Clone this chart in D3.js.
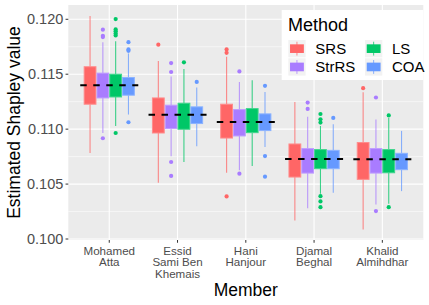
<!DOCTYPE html>
<html><head><meta charset="utf-8">
<script src="https://cdn.jsdelivr.net/npm/d3@7"></script>
<style>body{margin:0;background:#fff}svg{display:block;font-family:"Liberation Sans",Arial,sans-serif}</style>
</head><body><svg id="c" width="429" height="305"></svg>
<script>
const members = ["Mohamed\nAtta", "Essid\nSami Ben\nKhemais", "Hani\nHanjour", "Djamal\nBeghal", "Khalid\nAlmihdhar"];
const methods = ["SRS", "StrRS", "LS", "COA"];
const colors = ["#FF6666", "#A97CFF", "#00C767", "#6699FF"];
const yTicks = [0.100, 0.105, 0.110, 0.115, 0.120];
const yMinor = [0.1025, 0.1075, 0.1125, 0.1175];
// [lowWhisker, q1, median, q3, highWhisker] per member, per method
const statsSRS   = [[0.10783,0.11227,0.1140,0.11568,0.1203],[0.10513,0.10965,0.1112,0.11284,0.1162],[0.10603,0.10919,0.1107,0.11227,0.11659],[0.10169,0.10564,0.1073,0.10865,0.11248],[0.10087,0.10543,0.1072,0.10878,0.11336]];
const statsStrRS = [[0.10965,0.11284,0.1140,0.11510,0.11790],[0.10754,0.11005,0.1112,0.11218,0.1148],[0.10625,0.10938,0.1107,0.11178,0.1143],[0.10281,0.10600,0.1073,0.10823,0.11112],[0.10315,0.10600,0.1072,0.10823,0.11088]];
const statsLS    = [[0.11029,0.11293,0.1139,0.11500,0.11801],[0.10701,0.10999,0.1113,0.11236,0.11547],[0.10664,0.10968,0.1107,0.11187,0.11446],[0.10412,0.10640,0.1073,0.10814,0.11029],[0.10321,0.10603,0.1072,0.10814,0.11102]];
const statsCOA   = [[0.11133,0.11309,0.1139,0.11470,0.11689],[0.10844,0.11051,0.1113,0.11203,0.11378],[0.10837,0.10987,0.1107,0.11139,0.11339],[0.10421,0.10640,0.1073,0.10807,0.11044],[0.10436,0.10631,0.1072,0.10780,0.10984]];
const outSRS   = [[],[0.11769],[0.11726,0.11695,0.10388],[],[0.11373]];
const outStrRS = [[0.11905,0.11850,0.11838,0.10917],[0.11601,0.1152,0.10701,0.10574],[0.11525,0.10595],[0.11242,0.11184],[0.11288,0.10254]];
const outLS    = [[0.12002,0.11908,0.11892,0.11871,0.11853,0.10965],[0.11608],[],[0.11138,0.1109,0.1106,0.1039,0.10342,0.1029],[0.11125,0.1029]];
const outCOA   = [[0.11792,0.11726,0.11713,0.11063],[0.1143],[0.11394,0.10755,0.10567],[0.11102],[]];
const means = [0.1140, 0.1113, 0.11066, 0.10728, 0.10725];

const stats = [statsSRS, statsStrRS, statsLS, statsCOA];
const outs = [outSRS, outStrRS, outLS, outCOA];

const svg = d3.select("#c");
const P = {l: 68.3, r: 423.3, t: 5, b: 240};
const x = d3.scaleBand().domain(members).range([P.l, P.r]).paddingInner(0).paddingOuter(0.1);
const bw = x.bandwidth();
const xs = d3.scaleBand().domain(methods).range([-0.375*bw, 0.375*bw]);
const y = d3.scaleLinear().domain([0.09991, 0.1213]).range([P.b, P.t]);

svg.append("rect").attr("x",P.l).attr("y",P.t).attr("width",P.r-P.l).attr("height",P.b-P.t).attr("fill","#EBEBEB");
const g = svg.append("g");
yMinor.forEach(v=>g.append("line").attr("x1",P.l).attr("x2",P.r).attr("y1",y(v)).attr("y2",y(v)).attr("stroke","#fff").attr("stroke-width",0.55));
yTicks.forEach(v=>g.append("line").attr("x1",P.l).attr("x2",P.r).attr("y1",y(v)).attr("y2",y(v)).attr("stroke","#fff").attr("stroke-width",1.1));
members.forEach(m=>g.append("line").attr("y1",P.t).attr("y2",P.b).attr("x1",x(m)+bw/2).attr("x2",x(m)+bw/2).attr("stroke","#fff").attr("stroke-width",1.1));

// boxes
members.forEach((m,i)=>{
  const cx = x(m)+bw/2;
  methods.forEach((k,j)=>{
    const s = stats[j][i];
    const x0 = cx + xs(k), w = xs.bandwidth(), xc = x0 + w/2;
    const c = colors[j];
    g.append("line").attr("x1",xc).attr("x2",xc).attr("y1",y(s[0])).attr("y2",y(s[1])).attr("stroke",c).attr("stroke-opacity",0.75).attr("stroke-width",1.1);
    g.append("line").attr("x1",xc).attr("x2",xc).attr("y1",y(s[3])).attr("y2",y(s[4])).attr("stroke",c).attr("stroke-opacity",0.75).attr("stroke-width",1.1);
    g.append("rect").attr("x",x0+0.5).attr("width",w-1).attr("y",y(s[3])).attr("height",y(s[1])-y(s[3]))
      .attr("fill",c).attr("stroke",d3.interpolateRgb(c,"#fff")(0.25)).attr("stroke-width",1);
    g.append("line").attr("x1",x0+0.5).attr("x2",x0+w-0.5).attr("y1",y(s[2])).attr("y2",y(s[2])).attr("stroke",c).attr("stroke-width",1);
    outs[j][i].forEach(v=>g.append("circle").attr("cx",xc).attr("cy",y(v)).attr("r",2.1).attr("fill",c));
  });
  g.append("line").attr("x1",cx-0.425*bw).attr("x2",cx+0.425*bw).attr("y1",y(means[i])).attr("y2",y(means[i]))
    .attr("stroke","#000").attr("stroke-width",2).attr("stroke-dasharray","6.5,6.5");
});

// axes
const ya = svg.append("g");
yTicks.forEach(v=>{
  ya.append("line").attr("x1",P.l-2.75).attr("x2",P.l).attr("y1",y(v)).attr("y2",y(v)).attr("stroke","#333").attr("stroke-width",1);
  ya.append("text").attr("x",P.l-5).attr("y",y(v)+5).attr("text-anchor","end").attr("font-size",14.5).attr("fill","#4D4D4D").text(d3.format(".3f")(v));
});
members.forEach(m=>{
  const cx = x(m)+bw/2;
  ya.append("line").attr("x1",cx).attr("x2",cx).attr("y1",P.b).attr("y2",P.b+2.75).attr("stroke","#333").attr("stroke-width",1);
  m.split("\n").forEach((t,k)=>ya.append("text").attr("x",cx).attr("y",254.5+k*11.6).attr("text-anchor","middle").attr("font-size",11.6).attr("fill","#4D4D4D").text(t));
});
svg.append("text").attr("x",(P.l+P.r)/2).attr("y",296).attr("text-anchor","middle").attr("font-size",17.5).text("Member");
svg.append("text").attr("transform",`translate(20,${(P.t+P.b)/2}) rotate(-90)`).attr("text-anchor","middle").attr("font-size",17.5).text("Estimated Shapley value");

// legend
const L = svg.append("g");
L.append("rect").attr("x",281.7).attr("y",10).attr("width",141.6).attr("height",70).attr("fill","#fff");
L.append("text").attr("x",288).attr("y",31).attr("font-size",18).text("Method");
const keyPos = [[288.3,40],[288.3,58.3],[365,40],[365,58.3]];
methods.forEach((k,j)=>{
  const [kx,ky] = keyPos[j], ks = 17.3;
  L.append("rect").attr("x",kx).attr("y",ky).attr("width",ks).attr("height",ks).attr("fill","#F2F2F2");
  L.append("line").attr("x1",kx+ks/2).attr("x2",kx+ks/2).attr("y1",ky+ks*0.1).attr("y2",ky+ks*0.9).attr("stroke",colors[j]).attr("stroke-opacity",0.75);
  L.append("rect").attr("x",kx+ks*0.1).attr("y",ky+ks*0.25).attr("width",ks*0.8).attr("height",ks*0.5).attr("fill",colors[j]);
  L.append("text").attr("x",kx+27).attr("y",ky+ks/2+5.3).attr("font-size",15).text(k);
});
</script></body></html>
